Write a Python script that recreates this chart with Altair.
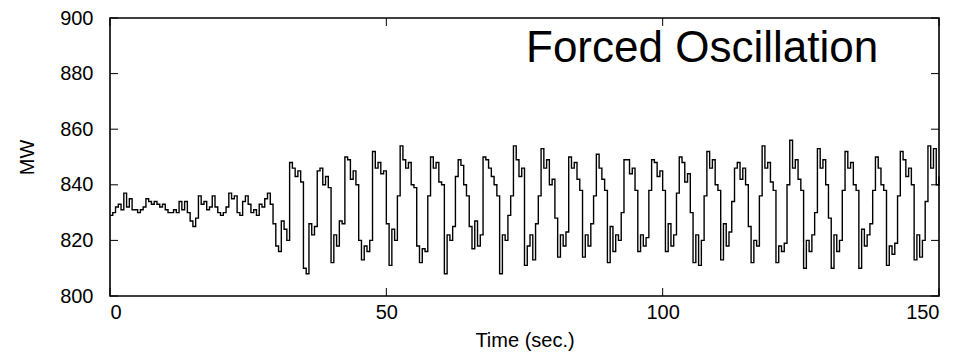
import altair as alt
import pandas as pd

# ---- data ----
t_start = 0.0      # s
t_step = 0.5       # s, sampling interval of the listed values
mw = [
    829, 830, 832, 833, 831, 837, 832, 835, 831, 831,   # 0 - 4.5
    830, 831, 832, 835, 834, 833, 834, 833, 832, 833,   # 5 - 9.5
    831, 830, 830, 831, 830, 834, 831, 834, 830, 827,   # 10 - 14.5
    825, 828, 836, 833, 834, 831, 832, 836, 832, 830,   # 15 - 19.5
    829, 830, 832, 837, 835, 836, 830, 829, 834, 836,   # 20 - 24.5
    833, 830, 831, 829, 833, 832, 835, 837, 833, 826,   # 25 - 29.5
    818, 816, 827, 824, 820, 848, 846, 843, 845, 841,   # 30 - 34.5
    810, 808, 826, 822, 825, 845, 846, 840, 843, 839,   # 35 - 39.5
    812, 822, 818, 827, 826, 850, 849, 842, 845, 840,   # 40 - 44.5
    820, 813, 818, 816, 820, 852, 846, 848, 844, 845,   # 45 - 49.5
    826, 811, 824, 820, 836, 854, 849, 846, 848, 840,   # 50 - 54.5
    839, 818, 812, 817, 816, 836, 850, 846, 848, 841,   # 55 - 59.5
    840, 808, 822, 820, 825, 843, 849, 847, 840, 836,   # 60 - 64.5
    825, 817, 827, 818, 822, 850, 849, 846, 843, 840,   # 65 - 69.5
    836, 808, 822, 820, 829, 836, 854, 849, 843, 846,   # 70 - 74.5
    811, 818, 822, 813, 826, 836, 853, 846, 849, 840,   # 75 - 79.5
    842, 828, 814, 822, 818, 823, 850, 846, 848, 842,   # 80 - 84.5
    838, 814, 822, 818, 826, 836, 851, 846, 842, 838,   # 85 - 89.5
    812, 825, 816, 822, 820, 830, 849, 849, 844, 846,   # 90 - 94.5
    838, 816, 822, 818, 821, 838, 849, 848, 843, 845,   # 95 - 99.5
    838, 816, 826, 818, 822, 837, 850, 848, 841, 844,   # 100 - 104.5
    830, 812, 822, 811, 820, 836, 852, 846, 849, 840,   # 105 - 109.5
    838, 813, 826, 818, 823, 834, 846, 848, 842, 846,   # 110 - 114.5
    840, 825, 812, 820, 818, 836, 854, 846, 848, 841,   # 115 - 119.5
    838, 812, 818, 816, 819, 840, 856, 846, 849, 842,   # 120 - 124.5
    838, 810, 820, 816, 822, 830, 853, 846, 849, 840,   # 125 - 129.5
    828, 810, 822, 816, 820, 838, 852, 846, 848, 840,   # 130 - 134.5
    838, 810, 824, 818, 822, 826, 838, 850, 846, 840,   # 135 - 139.5
    838, 811, 818, 815, 819, 836, 852, 849, 843, 846,   # 140 - 144.5
    840, 813, 822, 814, 820, 834, 854, 846, 853, 840,   # 145 - 149.5
    843,                                                # 150
]
x_ticks = [0, 50, 100, 150]
y_ticks = [800, 820, 840, 860, 880, 900]
x_domain = [0, 150]
y_domain = [800, 900]
annotation = ["Forced Oscillation"]
x_title = "Time (sec.)"
y_title = "MW"

# ---- layout ----
W, H = 829, 278
LEFT, TOP = 110, 18
TICK = 8
FONT = "Liberation Sans"

df = pd.DataFrame({"t": [t_start + i * t_step for i in range(len(mw))], "mw": mw})
xt = pd.DataFrame({"t": x_ticks})
yt = pd.DataFrame({"mw": y_ticks})

xs = alt.Scale(domain=x_domain, nice=False, zero=False)
ys = alt.Scale(domain=y_domain, nice=False, zero=False)

x_axis = alt.Axis(values=x_ticks, title=x_title, labelPadding=6, titlePadding=8,
                  format="d")
y_axis = alt.Axis(values=y_ticks, title=y_title, labelPadding=17, titlePadding=22,
                  format="d")

line = alt.Chart(df).mark_line(color="black", strokeWidth=1.4,
                               interpolate="step-after").encode(
    x=alt.X("t:Q", scale=xs, axis=x_axis),
    y=alt.Y("mw:Q", scale=ys, axis=y_axis),
)

yl = alt.Chart(yt).mark_rule(color="black", strokeWidth=1).encode(
    y=alt.Y("mw:Q", scale=ys, axis=y_axis), x=alt.value(0), x2=alt.value(TICK))
yr = alt.Chart(yt).mark_rule(color="black", strokeWidth=1).encode(
    y=alt.Y("mw:Q", scale=ys, axis=y_axis), x=alt.value(W - TICK), x2=alt.value(W))
xb = alt.Chart(xt).mark_rule(color="black", strokeWidth=1).encode(
    x=alt.X("t:Q", scale=xs, axis=x_axis), y=alt.value(H - TICK), y2=alt.value(H))
xtp = alt.Chart(xt).mark_rule(color="black", strokeWidth=1).encode(
    x=alt.X("t:Q", scale=xs, axis=x_axis), y=alt.value(0), y2=alt.value(TICK))

label = alt.Chart(pd.DataFrame({"label": annotation})).mark_text(
    align="left", baseline="alphabetic", fontSize=44, font=FONT, color="black"
).encode(text="label:N", x=alt.value(416), y=alt.value(44))

chart = alt.layer(line, yl, yr, xb, xtp, label).properties(
    width=W, height=H,
    background="white",
    autosize=alt.AutoSizeParams(type="none"),
    padding={"left": LEFT, "top": TOP, "right": 972 - LEFT - W, "bottom": 361 - TOP - H},
).configure_view(
    stroke="black", strokeWidth=1.6
).configure_axis(
    labelFont=FONT, titleFont=FONT, labelFontSize=20, titleFontSize=20,
    titleFontWeight="normal", labelColor="black", titleColor="black",
    domain=False, ticks=False, grid=False,
)

chart.save("out.html", embed_options={"renderer": "svg", "actions": False})
